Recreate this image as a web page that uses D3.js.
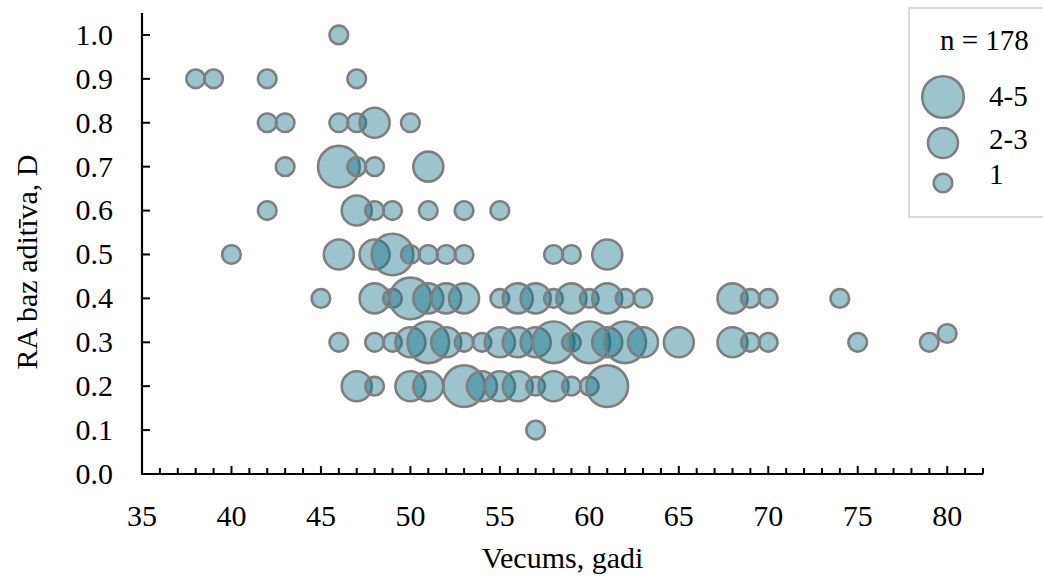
<!DOCTYPE html>
<html>
<head>
<meta charset="utf-8">
<script src="https://cdn.jsdelivr.net/npm/d3@7"></script>
<style>
  html, body { margin: 0; padding: 0; background: #fff; }
  svg { display: block; font-family: "Liberation Serif", "Times New Roman", serif; }
</style>
</head>
<body>
<svg id="chart" width="1043" height="577"></svg>
<script>
// Age (years), RA additive value (D) and patient-count group for each bubble
const ages = [
  46,
  38, 39, 42, 47,
  42, 43, 46, 47, 48, 50,
  43, 46, 47, 48, 51,
  42, 47, 48, 49, 51, 53, 55,
  40, 46, 48, 49, 50, 51, 52, 53, 58, 59, 61,
  45, 48, 49, 50, 51, 52, 53, 55, 56, 57, 58, 59, 60, 61, 62, 63, 68, 69, 70, 74,
  46, 48, 49, 50, 51, 52, 53, 54, 55, 56, 57, 58, 59, 60, 61, 62, 63, 65, 68, 69, 70, 75, 79, 80,
  47, 48, 50, 51, 53, 54, 55, 56, 57, 58, 59, 60, 61,
  57
];
const addValues = [
  1.0,
  0.9, 0.9, 0.9, 0.9,
  0.8, 0.8, 0.8, 0.8, 0.8, 0.8,
  0.7, 0.7, 0.7, 0.7, 0.7,
  0.6, 0.6, 0.6, 0.6, 0.6, 0.6, 0.6,
  0.5, 0.5, 0.5, 0.5, 0.5, 0.5, 0.5, 0.5, 0.5, 0.5, 0.5,
  0.4, 0.4, 0.4, 0.4, 0.4, 0.4, 0.4, 0.4, 0.4, 0.4, 0.4, 0.4, 0.4, 0.4, 0.4, 0.4, 0.4, 0.4, 0.4, 0.4,
  0.3, 0.3, 0.3, 0.3, 0.3, 0.3, 0.3, 0.3, 0.3, 0.3, 0.3, 0.3, 0.3, 0.3, 0.3, 0.3, 0.3, 0.3, 0.3, 0.3, 0.3, 0.3, 0.3, 0.32,
  0.2, 0.2, 0.2, 0.2, 0.2, 0.2, 0.2, 0.2, 0.2, 0.2, 0.2, 0.2, 0.2,
  0.1
];
const groups = [
  "1",
  "1", "1", "1", "1",
  "1", "1", "1", "1", "2-3", "1",
  "1", "4-5", "1", "1", "2-3",
  "1", "2-3", "1", "1", "1", "1", "1",
  "1", "2-3", "2-3", "4-5", "1", "1", "1", "1", "1", "1", "2-3",
  "1", "2-3", "1", "4-5", "2-3", "2-3", "2-3", "1", "2-3", "2-3", "1", "2-3", "1", "2-3", "1", "1", "2-3", "1", "1", "1",
  "1", "1", "1", "2-3", "4-5", "2-3", "1", "1", "2-3", "2-3", "2-3", "4-5", "1", "4-5", "2-3", "4-5", "2-3", "2-3", "2-3", "1", "1", "1", "1", "1",
  "2-3", "1", "2-3", "2-3", "4-5", "2-3", "2-3", "2-3", "1", "2-3", "1", "1", "4-5",
  "1"
];

const xTicks = [35, 40, 45, 50, 55, 60, 65, 70, 75, 80];
const yTicks = [0, 0.1, 0.2, 0.3, 0.4, 0.5, 0.6, 0.7, 0.8, 0.9, 1.0];
const legendGroups = ["4-5", "2-3", "1"];
const sampleLabel = "n = 178";
const xTitle = "Vecums, gadi";
const yTitle = "RA baz aditīva, D";

const svg = d3.select("#chart");
const plotLeft = 142, plotRight = 983, plotTop = 13, plotBottom = 474;
const fontSize = 30;

const x = d3.scaleLinear().domain([35, 82]).range([plotLeft, plotRight]);
const y = d3.scaleLinear().domain([0, 1.05]).range([plotBottom, plotTop]);
const r = d3.scaleOrdinal().domain(["1", "2-3", "4-5"]).range([9.3, 15, 20.8]);

const fillColor = "rgb(11,111,135)";
const fillOpacity = 0.41;
const strokeColor = "#7f7f7f";

const points = ages.map((a, i) => ({ age: a, value: addValues[i], group: groups[i] }));

// Bubbles
svg.append("g")
  .selectAll("circle")
  .data(points)
  .join("circle")
  .attr("cx", d => x(d.age))
  .attr("cy", d => y(d.value))
  .attr("r", d => r(d.group))
  .attr("fill", fillColor)
  .attr("fill-opacity", fillOpacity)
  .attr("stroke", strokeColor)
  .attr("stroke-width", 2.6);

// X axis: minor tick every year, taller tick every five, all pointing into the plot
const xAxisG = svg.append("g").attr("transform", `translate(0,${plotBottom})`);
const xAll = d3.range(36, 83);
xAxisG.selectAll("line.tick")
  .data(xAll)
  .join("line")
  .attr("class", "tick")
  .attr("x1", d => x(d)).attr("x2", d => x(d))
  .attr("y1", 0).attr("y2", d => d % 5 === 0 ? -8 : -6)
  .attr("stroke", "#000").attr("stroke-width", 2);
xAxisG.append("line")
  .attr("x1", plotLeft - 1).attr("x2", plotRight)
  .attr("y1", 0).attr("y2", 0)
  .attr("stroke", "#000").attr("stroke-width", 2.2);
xAxisG.selectAll("text")
  .data(xTicks)
  .join("text")
  .attr("x", d => x(d))
  .attr("y", 52)
  .attr("text-anchor", "middle")
  .attr("font-size", fontSize)
  .text(d => d);

// Y axis, ticks pointing into the plot
const yAxisG = svg.append("g").attr("transform", `translate(${plotLeft},0)`);
yAxisG.append("line")
  .attr("x1", 0).attr("x2", 0)
  .attr("y1", plotTop).attr("y2", plotBottom + 1)
  .attr("stroke", "#000").attr("stroke-width", 2.2);
yAxisG.selectAll("line.tick")
  .data(yTicks.filter(v => v > 0))
  .join("line")
  .attr("class", "tick")
  .attr("x1", 0).attr("x2", 8)
  .attr("y1", d => y(d)).attr("y2", d => y(d))
  .attr("stroke", "#000").attr("stroke-width", 2);
yAxisG.selectAll("text")
  .data(yTicks)
  .join("text")
  .attr("x", -29)
  .attr("y", d => y(d))
  .attr("dy", "0.33em")
  .attr("text-anchor", "end")
  .attr("font-size", fontSize)
  .text(d => d3.format(".1f")(d));

// Axis titles, centred on the plot area
svg.append("text")
  .attr("x", (plotLeft + plotRight) / 2)
  .attr("y", 568)
  .attr("text-anchor", "middle")
  .attr("font-size", fontSize)
  .text(xTitle);
svg.append("text")
  .attr("transform", `translate(37,262) rotate(-90)`)
  .attr("text-anchor", "middle")
  .attr("font-size", fontSize)
  .text(yTitle);

// Legend
const lg = svg.append("g");
lg.append("rect")
  .attr("x", 909).attr("y", 8)
  .attr("width", 150).attr("height", 209)
  .attr("fill", "#fff")
  .attr("stroke", "#d9d9d9").attr("stroke-width", 2);
lg.append("text")
  .attr("x", 940).attr("y", 50)
  .attr("font-size", fontSize - 1)
  .text(sampleLabel);
const legendY = { "4-5": 97, "2-3": 143, "1": 183 };
const legendTextY = { "4-5": 96, "2-3": 139, "1": 174 };
lg.selectAll("circle")
  .data(legendGroups)
  .join("circle")
  .attr("cx", 943)
  .attr("cy", d => legendY[d])
  .attr("r", d => r(d))
  .attr("fill", fillColor)
  .attr("fill-opacity", fillOpacity)
  .attr("stroke", strokeColor)
  .attr("stroke-width", 2.6);
lg.selectAll("text.lab")
  .data(legendGroups)
  .join("text")
  .attr("class", "lab")
  .attr("x", 989)
  .attr("y", d => legendTextY[d])
  .attr("dy", "0.35em")
  .attr("font-size", fontSize - 1)
  .text(d => d);
</script>
</body>
</html>
